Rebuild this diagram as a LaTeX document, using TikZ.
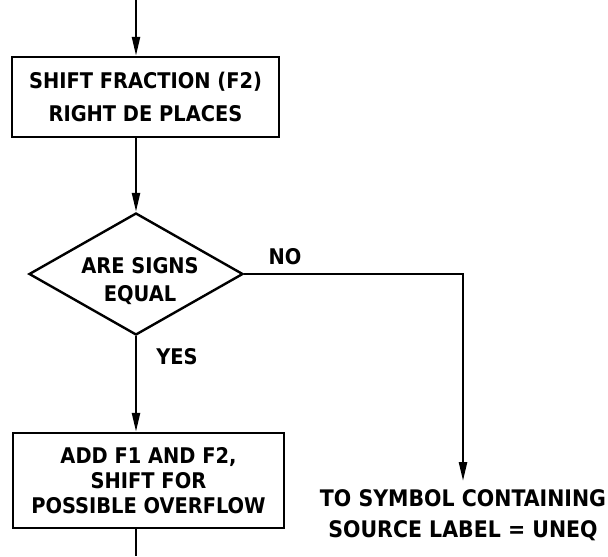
\documentclass[tikz,border=0pt]{standalone}
\usepackage{fontspec}
\setmainfont{DejaVu Sans Condensed}
\usetikzlibrary{shapes.geometric,arrows.meta}
\begin{document}
\begin{tikzpicture}[x=0.5pt, y=-0.5pt,
        every node/.style={font=\bfseries\fontsize{10.8}{12.5}\selectfont},
        procbox/.style={rectangle, draw, line width=1.2pt,
            align=center, inner sep=0pt},
        testbox/.style={diamond, draw, line width=1.2pt,
            inner sep=0pt, minimum width=107pt, minimum height=61pt},
        arrow/.style={-{Triangle[length=9.5pt, width=4pt]}, line width=1.2pt},
        flow/.style={line width=1.2pt}
      ]
      \useasboundingbox (0,0) rectangle (608,556);
      \coordinate (in) at (136,0);
      \coordinate (out) at (136,556);
      \node[procbox, minimum width=133.5pt, minimum height=40pt]
      (shift) at (145.5,97)
      {SHIFT FRACTION (F2)\\[4pt]RIGHT DE PLACES};
      \node[testbox] (signs) at (136,274) {};
      \node[align=center, inner sep=0pt] (signstext) at (140,281)
      {ARE SIGNS\\[1.5pt]EQUAL};
      \node[procbox, minimum width=135.5pt, minimum height=47.5pt]
      (add) at (148.5,480.5)
      {ADD F1 AND F2,\\SHIFT FOR\\POSSIBLE OVERFLOW};
      \node[align=center, anchor=north, inner sep=4pt,
        font=\bfseries\fontsize{11.4}{15.5}\selectfont]
      (dest) at (463,481)
      {TO SYMBOL CONTAINING\\SOURCE LABEL = UNEQ};
      \node (no) at (285,257) {NO};
      \node (yes) at (177,357) {YES};
      \draw[arrow] (in) -- (in |- shift.north);
      \draw[arrow] (in |- shift.south) -- (signs.north);
      \draw[arrow] (signs.south) -- (signs.south |- add.north);
      \draw[arrow] (signs.east) -| (dest.north);
      \draw[flow] (out |- add.south) -- (out);
    \end{tikzpicture}
\end{document}
